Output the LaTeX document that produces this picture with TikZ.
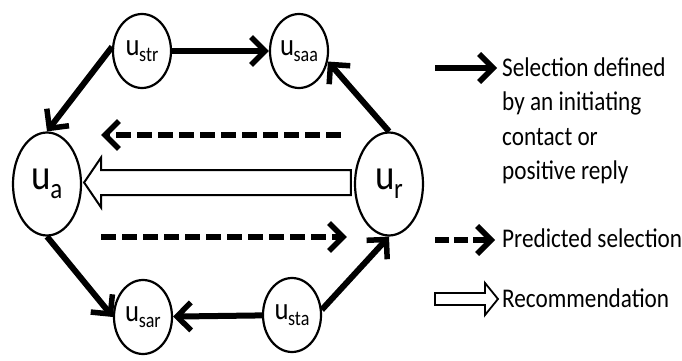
\documentclass[tikz,border=0pt]{standalone}
\usepackage{fontspec}
\setmainfont[FakeStretch=0.86]{Carlito}
\usetikzlibrary{shapes.geometric,arrows.meta,calc}
\newcommand{\ulbl}[4]{{\fontsize{#1}{#1}\selectfont u}\kern-0.5pt\raisebox{-#4}{\fontsize{#2}{#2}\selectfont #3}}
\tikzset{
  small/.style={ellipse,draw,line width=2.2pt,minimum width=58pt,minimum height=74pt,inner sep=0pt},
  big/.style={ellipse,draw,line width=2.2pt,minimum width=68pt,minimum height=103pt,inner sep=0pt},
  tip/.style={-{Straight Barb[length=14pt,width=28pt,line width=5.5pt]}},
  sel/.style={line width=6pt,tip},
  pred/.style={line width=6pt,dash pattern=on 15pt off 6pt,tip},
  rec/.style={draw,line width=2pt,fill=white,line join=miter},
  legtext/.style={anchor=west,inner sep=0pt,font=\fontsize{27}{34.5}\selectfont,align=left}
}
\begin{document}
\begin{tikzpicture}[x=1pt,y=-1pt]
\useasboundingbox (0,0) rectangle (682,361);
\node[small] (ustr) at (142,51) {\ulbl{31}{21}{str}{6pt}};
\node[small] (usaa) at (299,51) {\ulbl{31}{21}{saa}{6pt}};
\node[small] (usar) at (143,317) {\ulbl{31}{21}{sar}{6pt}};
\node[small] (usta) at (292,315) {\ulbl{31}{21}{sta}{6pt}};
\node[big] (ua) at (47,184) {\ulbl{43}{29}{a}{9pt}};
\node[big] (ur) at (389,184) {\ulbl{43}{29}{r}{9pt}};
% solid selections
\draw[sel] (ustr) -- (usaa);
\draw[sel] (ustr.172) -- (ua.north);
\draw[sel] (ur.north) -- (usaa.-20);
\draw[sel] (ua.south) -- (usar.west);
\draw[sel] (usta) -- (usar);
\draw[sel] (usta.10) -- (ur.south);
% predicted
\draw[pred] ([shift={(-13,-49)}]ur.west) -- ([shift={(19,-49)}]ua.east);
\draw[pred] ([shift={(19,53)}]ua.east) -- ([shift={(-7,53)}]ur.west);
% recommendation
\coordinate (rt) at ([shift={(-3,-1.5)}]ur.west);
\coordinate (rh) at ([shift={(2,-1.5)}]ua.east);
\draw[rec] ($(rt)+(0,-12.5)$) -- ($(rh)+(17,-12.5)$) -- ($(rh)+(17,-25)$) -- (rh) -- ($(rh)+(17,25)$) -- ($(rh)+(17,12.5)$) -- ($(rt)+(0,12.5)$) -- cycle;
% legend
\node[legtext] (l1) at (502,121) {Selection defined\\by an initiating\\contact or\\positive reply};
\coordinate (a1) at (435,68);
\draw[sel] (a1) -- ([xshift=-5pt]l1.west |- a1);
\node[legtext] (l2) at (502,238) {Predicted selection};
\coordinate (a2) at (435,240);
\draw[line width=6pt,dash pattern=on 14pt off 5pt,tip] (a2) -- ([xshift=-7pt]l2.west |- a2);
\node[legtext] (l3) at (502,298) {Recommendation};
\coordinate (a3) at (435,299);
\draw[rec,line width=1.8pt] ($(a3)+(0,-6)$) -- ($(a3)+(50,-6)$) -- ($(a3)+(50,-16)$) -- ($(a3)+(63,0)$) -- ($(a3)+(50,16)$) -- ($(a3)+(50,6)$) -- ($(a3)+(0,6)$) -- cycle;
\end{tikzpicture}
\end{document}
